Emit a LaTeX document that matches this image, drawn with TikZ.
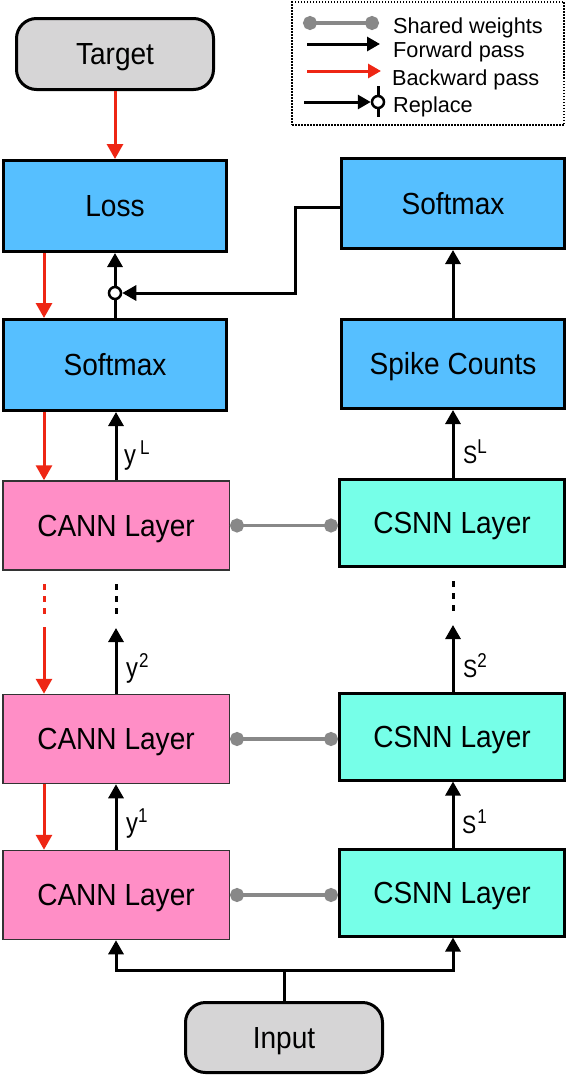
\documentclass[tikz,border=0pt]{standalone}
\usepackage{fontspec}
\setmainfont{Liberation Sans}[FakeStretch=0.92]
\newfontfamily\legf{Liberation Sans}
\newfontfamily\lblf{Liberation Sans}[FakeStretch=0.85]
\usetikzlibrary{arrows.meta}
\definecolor{boxblue}{RGB}{86,191,255}
\definecolor{boxpink}{RGB}{255,142,198}
\definecolor{boxaqua}{RGB}{118,255,232}
\definecolor{boxgray}{RGB}{214,213,214}
\definecolor{bred}{RGB}{238,38,20}
\definecolor{swgray}{RGB}{136,136,136}
\newcommand{\upsc}[1]{\raisebox{10pt}{\fontsize{20}{20}\selectfont #1}}
\begin{document}
\begin{tikzpicture}[x=1pt,y=-1pt,
  boxtxt/.style={font=\fontsize{30.5}{33}\selectfont, text height=21pt, text depth=0pt, inner sep=0pt},
  blue/.style={boxtxt, draw=black, line width=3pt, fill=boxblue, minimum width=223pt, minimum height=91pt},
  cann/.style={boxtxt, draw=black!80, line width=1.5pt, fill=boxpink, minimum width=226.5pt, minimum height=89pt},
  csnn/.style={boxtxt, draw=black, line width=3pt, fill=boxaqua, minimum width=225pt, minimum height=87pt},
  term/.style={boxtxt, draw=black, line width=3pt, fill=boxgray, rounded corners=20pt, minimum width=197pt, minimum height=71pt},
  fwd/.style={draw=black, line width=3pt, -{Triangle[length=14pt,width=15pt]}},
  fwdline/.style={draw=black, line width=3pt},
  bwd/.style={draw=bred, line width=3pt, -{Triangle[length=15pt,width=16pt]}},
  shared/.style={draw=swgray, line width=3.2pt, {Circle[length=14pt]}-{Circle[length=14pt]}},
  repc/.style={circle, draw=black, line width=2.5pt, fill=white, minimum size=11pt, inner sep=0pt},
  lbl/.style={font=\lblf\fontsize{28}{30}\selectfont, inner sep=0pt, anchor=base west},
  slbl/.style={lbl, font=\lblf\fontsize{25}{28}\selectfont},
  legtxt/.style={font=\legf\fontsize{21.7}{24}\selectfont, inner sep=0pt, anchor=base west},
  legarr/.style={line width=3pt, -{Triangle[length=13pt,width=14pt]}},
  dots/.style={line width=3pt, dash pattern=on 6pt off 6pt},
]
\useasboundingbox (0,0) rectangle (568,1076);

% legend
\node[draw=black, line width=1.5pt, dash pattern=on 1.5pt off 1.5pt, minimum width=272pt, minimum height=123pt, inner sep=0pt] (leg) at (428,63.5) {};
\coordinate (l1a) at (303,23); \coordinate (l1b) at (379,23);
\draw[shared] (l1a) -- (l1b);
\node[legtxt] (t1) at (393,33) {Shared weights};
\coordinate (l2a) at (307,44); \coordinate (l2b) at (380,44);
\draw[fwd, legarr] (l2a) -- (l2b);
\node[legtxt] (t2) at (393,57) {Forward pass};
\coordinate (l3a) at (307,71); \coordinate (l3b) at (381,71);
\draw[bwd, legarr] (l3a) -- (l3b);
\node[legtxt] (t3) at (392,85) {Backward pass};
\coordinate (l4a) at (304,102); \coordinate (l4t) at (378,86); \coordinate (l4b) at (378,117);
\draw[fwdline] (l4t) -- (l4b);
\node[repc, minimum size=12pt] (lrep) at (378,102) {};
\draw[fwd, legarr] (l4a) -- (lrep.west);
\node[legtxt] (t4) at (393,112) {Replace};

% nodes
\node[term] (target) at (115,54) {Target};
\node[blue] (loss) at (115,206) {Loss};
\node[blue, minimum height=90pt] (smR) at (453,203.5) {Softmax};
\node[blue] (smL) at (115,365) {Softmax};
\node[blue, minimum height=89pt] (spike) at (453,364) {Spike Counts};
\node[cann] (cann1) at (116,525.5) {CANN Layer};
\node[csnn] (csnn1) at (452,523) {CSNN Layer};
\node[cann] (cann2) at (116,739) {CANN Layer};
\node[csnn] (csnn2) at (452,736.5) {CSNN Layer};
\node[cann] (cann3) at (116,895) {CANN Layer};
\node[csnn] (csnn3) at (452,892.5) {CSNN Layer};
\node[term, minimum height=70pt] (input) at (284,1037.5) {Input};

\coordinate (rx) at (44,0);
\coordinate (bx) at (116,0);
\coordinate (sx) at (453,0);

% top part
\draw[bwd] (target.south) -- (loss.north);
\draw[bwd] (rx |- loss.south) -- (rx |- smL.north);
\node[repc, minimum size=12pt] (rep) at (115,293) {};
\draw[fwdline] (smL.north) -- (rep.south);
\draw[fwd] (rep.north) -- (loss.south);
\draw[fwd] ([yshift=-3.5pt]smR.west) -- ++(-45,0) |- (rep.east);
\draw[fwd] (sx |- spike.north) -- (sx |- smR.south);

% layer L
\draw[bwd] (rx |- smL.south) -- (rx |- cann1.north);
\draw[fwd] (bx |- cann1.north) -- (bx |- smL.south);
\draw[fwd] (sx |- csnn1.north) -- (sx |- spike.south);
\node[lbl] (yL) at (124,464) {y\hspace{4pt}\upsc{L}};
\node[slbl] (sL) at (463,463) {S\upsc{L}};
\draw[shared] (cann1.east) -- (cann1.east -| csnn1.west);

% dots
\coordinate (rd1) at (44,584); \coordinate (rd2) at (44,618);
\coordinate (bd1) at (116,584); \coordinate (bd2) at (116,618);
\coordinate (sd1) at (453,581); \coordinate (sd2) at (453,615);
\draw[dots, draw=bred] (rd1) -- (rd2);
\draw[dots, draw=black] (bd1) -- (bd2);
\draw[dots, draw=black] (sd1) -- (sd2);

% layer 2
\coordinate (ra2) at (44,627); \coordinate (ba2) at (116,628); \coordinate (sa2) at (453,625);
\draw[bwd] (ra2) -- (rx |- cann2.north);
\draw[fwd] (bx |- cann2.north) -- (ba2);
\draw[fwd] (sx |- csnn2.north) -- (sa2);
\node[lbl] (y2) at (126,677) {y\hspace{1pt}\upsc{2}};
\node[slbl] (s2) at (463,677) {S\upsc{2}};
\draw[shared] (cann2.east) -- (cann2.east -| csnn2.west);

% layer 1
\draw[bwd] (rx |- cann2.south) -- (rx |- cann3.north);
\draw[fwd] (bx |- cann3.north) -- (bx |- cann2.south);
\draw[fwd] (sx |- csnn3.north) -- (sx |- csnn2.south);
\node[lbl] (y1) at (126,832) {y\upsc{1}};
\node[slbl] (s1) at (462,833) {S\hspace{1pt}\upsc{1}};
\draw[shared] (cann3.east) -- (cann3.east -| csnn3.west);

% input
\coordinate (br) at (284,970);
\draw[fwdline] (input.north) -- (br);
\draw[fwd] (br) -| (bx |- cann3.south);
\draw[fwd] (br) -| (sx |- csnn3.south);
\end{tikzpicture}
\end{document}
